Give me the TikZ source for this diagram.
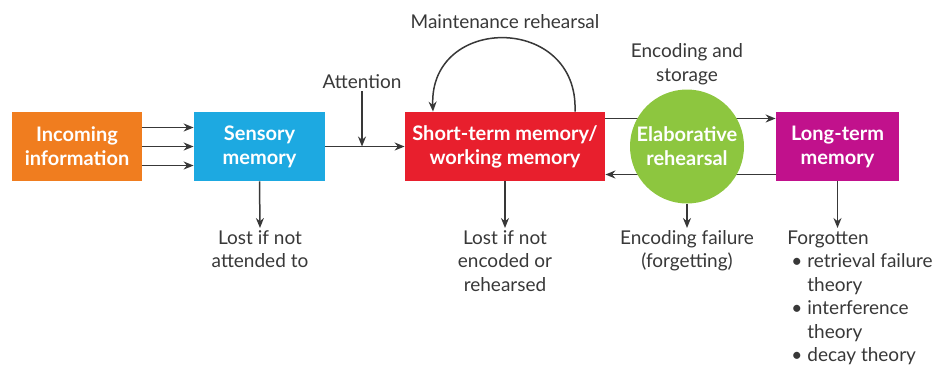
\documentclass[tikz,border=0pt]{standalone}
\usepackage{fontspec}
\setmainfont{Lato}
\usetikzlibrary{arrows.meta}
\usetikzlibrary{positioning}
\usetikzlibrary{backgrounds}

\definecolor{inorange}{HTML}{F07D1F}
\definecolor{sensblue}{HTML}{1DA9E1}
\definecolor{stmred}{HTML}{E81F2D}
\definecolor{elabgreen}{HTML}{8DC63F}
\definecolor{ltmpink}{HTML}{C1118C}
\definecolor{txtgray}{HTML}{383838}

\tikzset{
  store/.style={rectangle, minimum height=34.5pt, text=white, align=center,
    font=\fontsize{10}{12}\selectfont\bfseries},
  txt/.style={text=txtgray, align=center, inner sep=1pt,
    font=\fontsize{9.5}{11.75}\selectfont},
  flow/.style={-{Stealth[length=5pt,width=4pt]}, line width=0.75pt, draw=txtgray}
}

\newcommand{\bitem}[1]{\hspace*{2pt}\makebox[8pt][l]{\textbullet}#1}
\newcommand{\bcont}[1]{\hspace*{10pt}#1}

\begin{document}
\begin{tikzpicture}[x=0.5pt, y=-0.5pt]
        \useasboundingbox (0,0) rectangle (932,365);

        % memory stores
        \node (inc) at (77,146.5) [store, fill=inorange, minimum width=65pt] {Incoming\\information};
        \node (sens) at (259.5,146.5) [store, fill=sensblue, minimum width=65.5pt] {Sensory\\memory};
        \node (stm) at (505,146.5) [store, fill=stmred, minimum width=100pt] {Short-term memory/\\working memory};
        \node (elab) at (687,146.5) [circle, fill=elabgreen, minimum size=57pt, inner sep=0pt,
            text=white, align=center, font=\fontsize{10}{12}\selectfont\bfseries] {Elaborative\\rehearsal};
        \node (ltm) at (837.5,146.5) [store, fill=ltmpink, minimum width=61.5pt] {Long-term\\memory};

        % labels
        \node (att) at (362,82) [txt] {Attention};
        \node (maint) at (505,22) [txt] {Maintenance rehearsal};
        \node (enc) at (687,64) [txt] {Encoding and\\storage};
        \node (lost1) at (260,228) [txt, anchor=north] {Lost if not\\attended to};
        \node (lost2) at (505,228) [txt, anchor=north] {Lost if not\\encoded or\\rehearsed};
        \node (encfail) at (687,228) [txt, anchor=north] {Encoding failure\\(forgetting)};
        \node (forgot) at (785,228) [txt, anchor=north west, align=left] {Forgotten\\
            \bitem{retrieval failure}\\ \bcont{theory}\\
            \bitem{interference}\\ \bcont{theory}\\
            \bitem{decay theory}};

        % connections
        \draw[flow] ([yshift=9.5pt]inc.east) -- ([yshift=9.5pt]sens.west);
        \draw[flow] (inc.east) -- (sens.west);
        \draw[flow] ([yshift=-9.5pt]inc.east) -- ([yshift=-9.5pt]sens.west);
        \draw[flow] (sens.east) -- (stm.west);
        \coordinate (attin) at (att.south |- stm.west);
        \draw[flow] (att.south) -- (attin);
        \draw[flow] ([xshift=35pt]stm.north) .. controls (579,14) and (429,14) .. ([xshift=-36pt]stm.north);
        \begin{scope}[on background layer]
          \draw[flow] ([yshift=14pt]stm.east) -- ([yshift=14pt]ltm.west);
          \draw[flow] ([yshift=-14pt]ltm.west) -- ([yshift=-14pt]stm.east);
        \end{scope}
        \draw[flow] (sens.south) -- (lost1.north);
        \draw[flow] (stm.south) -- (lost2.north);
        \draw[flow] (elab.south) -- (encfail.north);
        \draw[flow] (ltm.south) -- (ltm.south |- forgot.north);
    \end{tikzpicture}
\end{document}
